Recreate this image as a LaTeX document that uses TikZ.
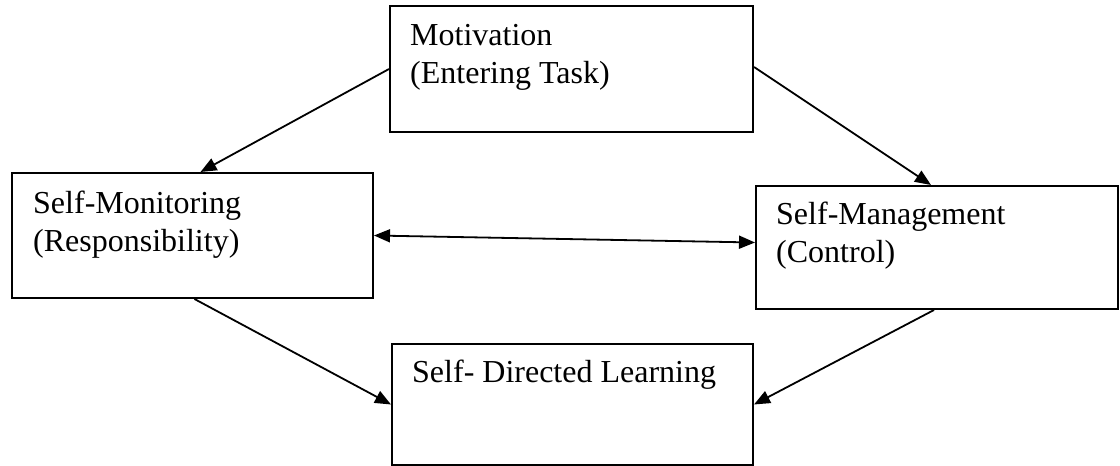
\documentclass[tikz,border=0pt]{standalone}
\usepackage{fontspec}
\setmainfont{Liberation Serif}
\usetikzlibrary{arrows.meta}
\tikzset{
  box/.style={draw, line width=2pt, rectangle, inner sep=0pt, anchor=north west},
  txt/.style={anchor=base west, inner sep=0pt, font=\fontsize{32}{38}\selectfont},
  conn/.style={line width=1.8pt, -{Triangle[length=16pt,width=13pt]}},
  biconn/.style={line width=1.8pt, {Triangle[length=16pt,width=13pt]}-{Triangle[length=16pt,width=13pt]}}
}
\begin{document}
\begin{tikzpicture}[x=1pt,y=-1pt]
\useasboundingbox[fill=white] (0,0) rectangle (1120,466);
% boxes
\node[box, minimum width=363pt, minimum height=126pt] (mot) at (389,5) {};
\node[box, minimum width=361pt, minimum height=125pt] (sm) at (11,172) {};
\node[box, minimum width=362pt, minimum height=123pt] (smg) at (755,185) {};
\node[box, minimum width=361pt, minimum height=121pt] (sdl) at (391,343) {};
% texts
\node[txt] (mot1) at (410,45) {Motivation};
\node[txt] (mot2) at (410,83) {(Entering Task)};
\node[txt] (sm1) at (33,213) {Self-Monitoring};
\node[txt] (sm2) at (33,251) {(Responsibility)};
\node[txt] (smg1) at (776,224) {Self-Management};
\node[txt] (smg2) at (776,262) {(Control)};
\node[txt] (sdl1) at (412,382) {Self- Directed Learning};
% connectors
\draw[conn] (mot.west) -- ([xshift=8pt]sm.north);
\draw[conn] ([yshift=2pt]mot.east) -- ([xshift=-6pt]smg.north);
\draw[biconn] (sm.east) -- ([yshift=5pt]smg.west);
\draw[conn] ([xshift=2pt]sm.south) -- (sdl.west);
\draw[conn] ([xshift=-3pt]smg.south) -- (sdl.east);
\end{tikzpicture}
\end{document}
